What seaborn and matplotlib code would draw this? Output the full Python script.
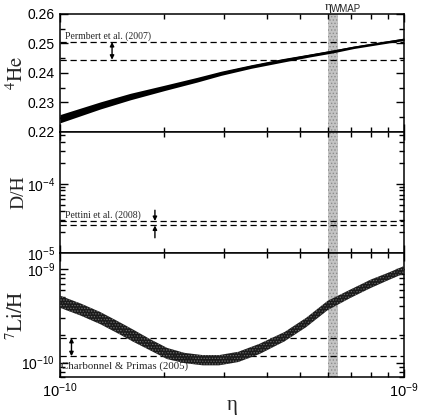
import numpy as np
import matplotlib
matplotlib.use("Agg")
import matplotlib.pyplot as plt
from matplotlib.ticker import MultipleLocator, LogLocator, NullFormatter, FormatStrFormatter
import seaborn as sns

# ---- data ----
# baryon-to-photon ratio range
eta_lim = (1e-10, 1e-9)
eta_wmap = (6.0e-10, 6.45e-10)

# He-4 mass fraction band
eta_he = np.array([1.0, 1.31, 1.6, 2.02, 2.5, 2.94, 3.6, 4.45, 5.3, 6.2, 7.15, 8.5, 10.0]) * 1e-10
he_mid = np.array([0.2245, 0.2290, 0.2320, 0.2350, 0.2377, 0.2399, 0.2422, 0.2443, 0.2459, 0.2473, 0.2487, 0.2501, 0.2514])
he_half = np.array([0.0014, 0.0012, 0.0011, 0.0009, 0.0008, 0.0007, 0.0006, 0.0006, 0.0005, 0.0005, 0.0004, 0.0004, 0.0004])
he_obs = [0.2505, 0.2445]          # Peimbert et al. (2007)

# D/H observations
dh_obs = [2.9e-5, 2.5e-5]          # Pettini et al. (2008)

# Li-7 band
eta_li = np.array([1.0, 1.15, 1.31, 1.47, 1.63, 1.83, 2.05, 2.3, 2.6, 2.9, 3.3, 3.8, 4.5, 5.2, 6.0, 7.0, 8.0, 9.0, 10.0]) * 1e-10
li_mid = np.array([4.5, 3.7, 3.0, 2.4, 1.95, 1.55, 1.25, 1.12, 1.06, 1.06, 1.15, 1.40, 1.90, 2.7, 4.1, 5.5, 7.0, 8.4, 9.9]) * 1e-10
li_dex = np.array([0.065, 0.065, 0.065, 0.065, 0.065, 0.06, 0.06, 0.055, 0.055, 0.055, 0.055, 0.055, 0.05, 0.05, 0.05, 0.045, 0.045, 0.04, 0.04])
li_obs = [1.84e-10, 1.17e-10]      # Charbonnel & Primas (2005)

# ---- style ----
sns.set_style("ticks")
plt.rcParams['font.family'] = ['Liberation Sans', 'DejaVu Sans']
plt.rcParams['mathtext.fontset'] = 'stix'
plt.rcParams['hatch.linewidth'] = 0.6
serif = ['Liberation Serif', 'DejaVu Serif']

fig = plt.figure(figsize=(4.42, 4.16), dpi=100)
L, W = 0.1357, 0.7783
ax_he = fig.add_axes([L, 0.6827, W, 0.2837])
ax_d = fig.add_axes([L, 0.3918, W, 0.2909], sharex=ax_he)
ax_li = fig.add_axes([L, 0.09375, W, 0.2981], sharex=ax_he)
axes = [ax_he, ax_d, ax_li]

dash = (0, (5, 3))
for ax in axes:
    ax.set_xscale('log')
    ax.axvspan(*eta_wmap, facecolor='#c4c4c4', edgecolor='#8c8c8c', hatch='.....', lw=0, zorder=0)
    for s in ax.spines.values():
        s.set_linewidth(1.1)
        s.set_color('k')
    ax.tick_params(which='both', direction='in', top=True, right=True, colors='k', width=1)
    ax.tick_params(which='major', length=6, labelsize=10)
    ax.tick_params(which='minor', length=3.5)
ax_he.set_xlim(*eta_lim)

# He panel
ax_he.fill_between(eta_he, he_mid - he_half, he_mid + he_half, color='k', lw=0, zorder=3)
sns.lineplot(x=eta_he, y=he_mid, ax=ax_he, color='k', lw=1, zorder=3)
for v in he_obs:
    ax_he.axhline(v, color='k', lw=0.9, ls=dash, zorder=2)
ax_he.set_ylim(0.22, 0.26)
ax_he.yaxis.set_major_locator(MultipleLocator(0.01))
ax_he.yaxis.set_minor_locator(MultipleLocator(0.005))
ax_he.yaxis.set_major_formatter(FormatStrFormatter('%.2f'))
ax_he.annotate('', xy=(1.417e-10, he_obs[0]), xytext=(1.417e-10, he_obs[1]),
               arrowprops=dict(arrowstyle='<|-|>', color='k', lw=1, mutation_scale=6, shrinkA=0, shrinkB=0))
ax_he.text(1.034e-10, he_obs[0] + 0.0002, 'Permbert et al. (2007)', family=serif, fontsize=7, va='bottom')
ax_he.text(6.15e-10, 0.2603, '\u03b7', family=serif, fontsize=9.5, ha='right', va='bottom')
ax_he.text(6.15e-10, 0.26005, 'WMAP', fontsize=7, ha='left', va='bottom')
ax_he.set_ylabel(r'$^{4}\mathrm{He}$', fontsize=15)

# D/H panel
ax_d.set_yscale('log')
for v in dh_obs:
    ax_d.axhline(v, color='k', lw=0.9, ls=dash, zorder=2)
ax_d.set_ylim(1e-5, 5.6e-4)
ax_d.yaxis.set_major_locator(LogLocator(base=10))
ax_d.yaxis.set_minor_locator(LogLocator(base=10, subs=np.arange(2, 10)))
ax_d.yaxis.set_minor_formatter(NullFormatter())
ax_d.annotate('', xy=(1.888e-10, dh_obs[0]), xytext=(1.888e-10, 4.15e-5),
              arrowprops=dict(arrowstyle='-|>', color='k', lw=1, mutation_scale=6, shrinkA=0, shrinkB=0))
ax_d.annotate('', xy=(1.888e-10, dh_obs[1]), xytext=(1.888e-10, 1.66e-5),
              arrowprops=dict(arrowstyle='-|>', color='k', lw=1, mutation_scale=6, shrinkA=0, shrinkB=0))
ax_d.text(1.034e-10, dh_obs[0] * 1.04, 'Pettini et al. (2008)', family=serif, fontsize=7, va='bottom')
ax_d.set_ylabel('D/H', family=serif, fontsize=14)

# Li panel
ax_li.set_yscale('log')
ax_li.fill_between(eta_li, li_mid * 10 ** (-li_dex), li_mid * 10 ** li_dex,
                   facecolor='#1a1a1a', edgecolor='#6e6e6e', hatch='......', lw=0, zorder=3)
sns.lineplot(x=eta_li, y=li_mid, ax=ax_li, color='#1a1a1a', lw=0.5, zorder=3)
for v in li_obs:
    ax_li.axhline(v, color='k', lw=0.9, ls=dash, zorder=2)
ax_li.set_ylim(7e-11, 1.5e-9)
ax_li.yaxis.set_major_locator(LogLocator(base=10))
ax_li.yaxis.set_minor_locator(LogLocator(base=10, subs=np.arange(2, 10)))
ax_li.yaxis.set_minor_formatter(NullFormatter())
ax_li.annotate('', xy=(1.08e-10, li_obs[0]), xytext=(1.08e-10, li_obs[1]),
               arrowprops=dict(arrowstyle='<|-|>', color='k', lw=1, mutation_scale=6, shrinkA=0, shrinkB=0))
ax_li.text(1.01e-10, 9.1e-11, 'Charbonnel & Primas (2005)', family=serif, fontsize=7.8, va='center')
ax_li.set_ylabel(r'$^{7}\mathrm{Li/H}$', fontsize=15)

ax_li.xaxis.set_major_locator(LogLocator(base=10))
ax_li.xaxis.set_minor_locator(LogLocator(base=10, subs=np.arange(2, 10)))
ax_li.xaxis.set_minor_formatter(NullFormatter())
ax_li.tick_params(axis='x', which='major', labelsize=10.5, pad=3)
ax_li.set_xlabel('\u03b7', family=serif, fontsize=15, labelpad=-3)
for ax in (ax_he, ax_d):
    ax.tick_params(axis='x', which='both', labelbottom=False)
for ax in axes:
    ax.yaxis.set_label_coords(-0.095, 0.5)

fig.savefig('out.png', dpi=100)
